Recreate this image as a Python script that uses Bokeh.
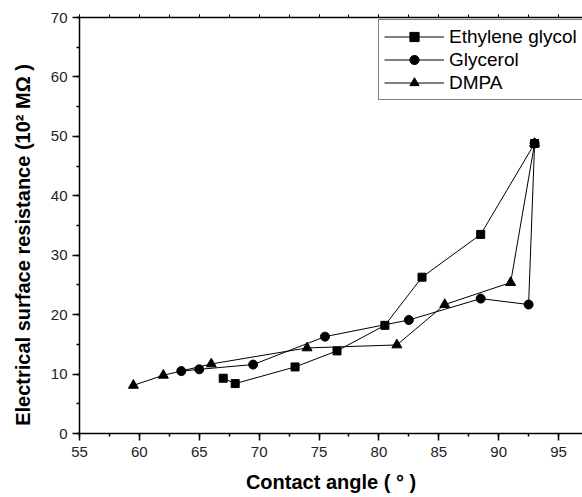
from bokeh.plotting import figure
from bokeh.models import LinearAxis, Range1d, Legend, LegendItem, SingleIntervalTicker, CustomJSTickFormatter
from bokeh.embed import file_html
from bokeh.resources import INLINE

# Data
eg_x = [67.0, 68.0, 73.0, 76.5, 80.5, 83.6, 88.5, 93.0]
eg_y = [9.3, 8.4, 11.2, 13.9, 18.2, 26.3, 33.5, 48.8]

gly_x = [63.5, 65.0, 69.5, 75.5, 82.5, 88.5, 92.5, 93.0]
gly_y = [10.5, 10.8, 11.6, 16.3, 19.1, 22.7, 21.7, 48.8]

dmpa_x = [59.5, 62.0, 66.0, 74.0, 81.5, 85.5, 91.0, 93.0]
dmpa_y = [8.1, 9.8, 11.7, 14.4, 14.9, 21.7, 25.4, 48.8]

series_names = ["Ethylene glycol", "Glycerol", "DMPA"]
x_title = "Contact angle ( \u00b0 )"
# trailing no-break spaces shift the centred title slightly down, as in the reference
y_title = "Electrical surface resistance (10\u00b2 M\u03a9 )" + "\u00a0" * 7

FONT = "Liberation Sans"

p = figure(width=582, height=497, output_backend="svg", toolbar_location=None,
           x_range=Range1d(55, 97), y_range=Range1d(0, 70),
           min_border_left=79, min_border_right=0, min_border_top=17, min_border_bottom=64,
           x_axis_label=x_title, y_axis_label=y_title)
p.outline_line_color = None
p.xgrid.visible = False
p.ygrid.visible = False
p.background_fill_color = "white"
p.border_fill_color = "white"

p.xaxis.ticker = SingleIntervalTicker(interval=5, num_minor_ticks=2)
p.yaxis.ticker = SingleIntervalTicker(interval=10, num_minor_ticks=2)

for ax in (p.xaxis[0], p.yaxis[0]):
    ax.axis_line_width = 1.5
    ax.axis_line_color = "black"
    ax.major_tick_line_color = "black"
    ax.minor_tick_line_color = "black"
    ax.major_tick_line_width = 1.5
    ax.minor_tick_line_width = 1.5
    ax.major_tick_out = 7
    ax.major_tick_in = 0
    ax.minor_tick_out = 3
    ax.minor_tick_in = 0
    ax.major_label_text_font = FONT
    ax.major_label_text_font_size = "15px"
    ax.major_label_text_color = "#222222"
    ax.axis_label_text_font = FONT
    ax.axis_label_text_font_size = "20px"
    ax.axis_label_text_font_style = "bold"
    ax.axis_label_text_color = "black"

p.xaxis.major_label_standoff = 6
p.xaxis.axis_label_standoff = 11
p.yaxis.major_label_standoff = 5
p.yaxis.axis_label_standoff = 14

top = LinearAxis(ticker=SingleIntervalTicker(interval=5, num_minor_ticks=2),
                 formatter=CustomJSTickFormatter(code="return ''"))
top.axis_line_width = 1.5
top.major_tick_out = 3
top.major_tick_in = 0
top.minor_tick_out = 3
top.minor_tick_in = 0
top.major_label_standoff = 0
p.add_layout(top, "above")

items = []
specs = [(eg_x, eg_y, "square", 8), (gly_x, gly_y, "circle", 9), (dmpa_x, dmpa_y, "triangle", 10)]
for (xs, ys, marker, size), name in zip(specs, series_names):
    ln = p.line(xs, ys, line_color="black", line_width=1)
    sc = p.scatter(xs, ys, marker=marker, size=size, fill_color="black", line_color="black")
    items.append(LegendItem(label=name, renderers=[ln, sc]))

legend = Legend(items=items, location=(299, 333))
legend.label_text_font = FONT
legend.label_text_font_size = "19px"
legend.label_text_color = "black"
legend.glyph_width = 60
legend.glyph_height = 23
legend.label_height = 23
legend.label_standoff = 5
legend.spacing = 0
legend.padding = 5
legend.margin = 0
legend.border_line_color = "black"
legend.border_line_width = 1
legend.background_fill_alpha = 1
p.add_layout(legend, "center")

open("out.html", "w").write(file_html(p, INLINE))
